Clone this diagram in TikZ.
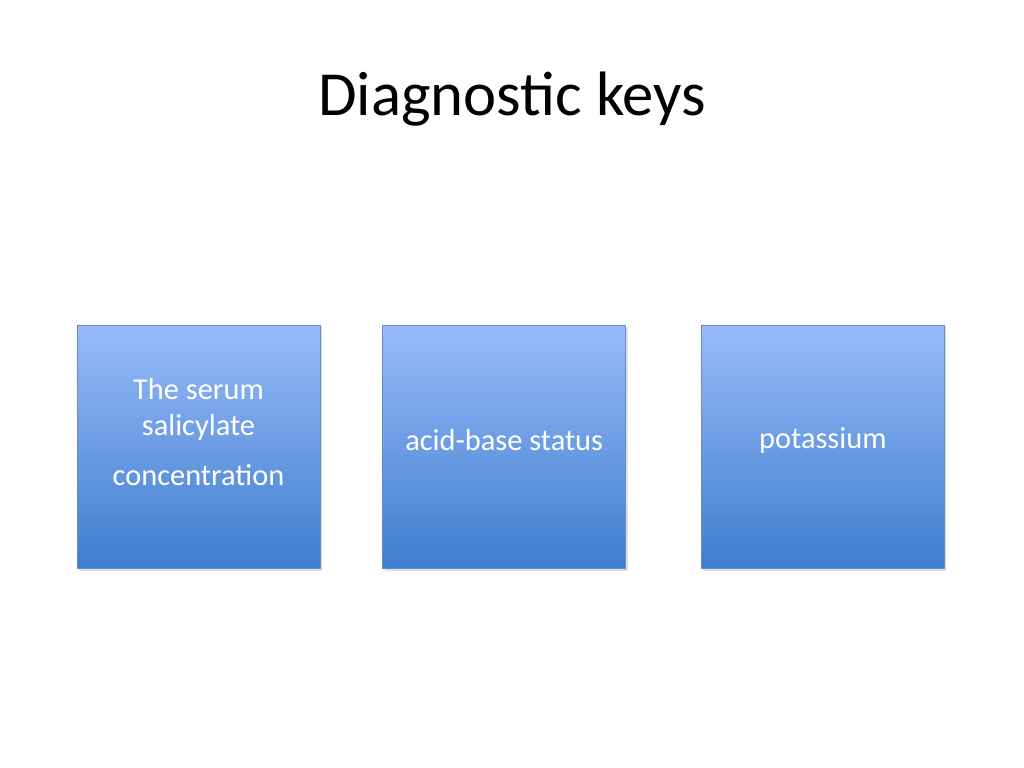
\documentclass[tikz,border=0pt]{standalone}
\usepackage{fontspec}
\setmainfont{Carlito}
\usetikzlibrary{positioning,shadows}
\definecolor{boxtop}{RGB}{152,186,250}
\definecolor{boxbot}{RGB}{62,126,206}
\definecolor{boxline}{RGB}{100,140,200}
\tikzset{keybox/.style={draw=boxline, line width=0.4pt, top color=boxtop, bottom color=boxbot,
  minimum width=4.86cm, minimum height=4.86cm, inner sep=0pt,
  drop shadow={opacity=0.25, shadow xshift=0.04cm, shadow yshift=-0.04cm}},
  keytext/.style={text=white, align=center, inner sep=0pt, font=\fontsize{17.3}{21}\selectfont}}
\begin{document}
\begin{tikzpicture}
\useasboundingbox (0,0) rectangle (20.48,-15.36);
\fill[white] (0,0) rectangle (20.48,-15.36);

\node (title) at (10.24,-1.98) {\fontsize{35.7}{42}\selectfont Diagnostic keys};

\node[keybox] (serum) at (3.97,-8.94) {};
\node[keybox, right=1.24cm of serum] (acid) {};
\node[keybox, right=1.5cm of acid] (potassium) {};

\node[keytext] (serumtext) at ([yshift=0.3cm]serum.center) {The serum\\salicylate\\[0.26cm]concentration};
\node[keytext] (acidtext) at ([yshift=0.14cm]acid.center) {acid-base status};
\node[keytext] (potassiumtext) at ([yshift=0.14cm]potassium.center) {potassium};
\end{tikzpicture}
\end{document}
